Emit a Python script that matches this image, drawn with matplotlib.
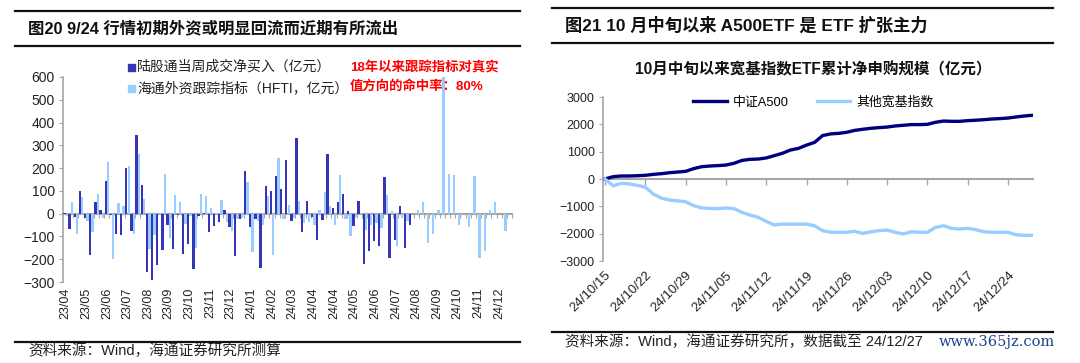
import numpy as np
import matplotlib
matplotlib.use('Agg')
import matplotlib.pyplot as plt
from matplotlib.patches import Rectangle
from matplotlib.lines import Line2D

plt.rcParams['font.family'] = ['Liberation Sans', 'Noto Sans CJK SC']

# ---- left chart data (weekly, 亿元) ----
week_labels = ['23/04', '23/05', '23/06', '23/07', '23/08', '23/09', '23/10', '23/11',
               '23/12', '24/01', '24/02', '24/03', '24/04', '24/04', '24/05', '24/06',
               '24/07', '24/08', '24/09', '24/10', '24/11', '24/12']

northbound = [5, -68, -15, 100, -20, -180, 50, 18, 145, -5,
              -88, -95, 200, -78, 347, 128, -258, -293, -225, -160,
              -50, -155, -5, -178, -135, -243, -10, 5, -82, -52,
              -35, 18, -60, -188, -25, 187, -60, -25, -237, 122,
              100, 164, 108, 237, -33, 332, -80, 54, -15, -117,
              -27, 260, 25, 50, 88, 10, -55, 54, -220, -163,
              -120, -140, 160, -195, -114, 32, -150, -50]

hfti = [-10, 52, -90, 72, -30, -80, 87, -20, 227, -200,
        48, 35, 210, -90, 260, 65, -155, -95, 5, 175,
        -105, 80, 52, -45, -10, -150, 87, 77, 25, 5,
        58, -35, -75, -25, -20, 140, -170, -30, -50, 78,
        -180, 245, -25, 37, -20, 57, -40, -37, -50, 15,
        95, 35, -50, 171, -22, -97, -15, 5, -70, -48,
        -40, -63, 80, 10, -143, -20, -33, 0, 18, 50,
        -128, -88, 15, 600, 174, 171, -48, 0, -60, 164,
        -195, -165, 18, 50, 0, -78, 0]

# ---- right chart data (daily, 亿元) ----
day_labels = ['24/10/15', '24/10/22', '24/10/29', '24/11/05', '24/11/12', '24/11/19',
              '24/11/26', '24/12/03', '24/12/10', '24/12/17', '24/12/24']

a500 = [0, 85, 110, 110, 120, 135, 170, 195, 230, 255,
        280, 380, 450, 475, 490, 510, 575, 680, 720, 730,
        770, 855, 940, 1060, 1120, 1240, 1340, 1590, 1650, 1670,
        1710, 1780, 1820, 1855, 1880, 1900, 1940, 1965, 1990, 1990,
        2000, 2075, 2120, 2110, 2110, 2135, 2150, 2170, 2195, 2210,
        2230, 2270, 2305, 2330]

others = [0, -250, -160, -180, -230, -300, -550, -700, -770, -800,
          -830, -975, -1060, -1075, -1085, -1060, -1085, -1220, -1320, -1400,
          -1550, -1680, -1650, -1650, -1650, -1650, -1710, -1890, -1950, -1950,
          -1950, -1915, -1990, -1930, -1890, -1870, -1950, -2010, -1930, -1950,
          -1950, -1770, -1710, -1805, -1830, -1805, -1855, -1930, -1950, -1950,
          -1950, -2040, -2060, -2060]

W, H = 1080, 363
def fx(p):
    return p / W
def fy(p):
    return 1 - p / H

dark_c = '#3535B5'
light_c = '#99CCFF'
navy = '#000080'
gray = '#A6A6A6'
txt = '#222222'

fig = plt.figure(figsize=(10.8, 3.63), dpi=100)

def hline(x0, x1, y, lw=1.6):
    fig.add_artist(Line2D([fx(x0), fx(x1)], [fy(y), fy(y)], transform=fig.transFigure,
                          color='#111111', lw=lw))

# ---- headers and footers ----
hline(15, 520, 11)
hline(15, 520, 46)
hline(15, 520, 342)
fig.text(fx(28), fy(28), '图20 9/24 行情初期外资或明显回流而近期有所流出', fontsize=11.8,
         fontweight='bold', va='center', ha='left', color='#111111')
fig.text(fx(28), fy(351), '资料来源：Wind，海通证券研究所测算', fontsize=10.5,
         va='center', ha='left', color=txt)

hline(552, 1053, 8)
hline(552, 1053, 43)
hline(552, 1053, 332)
fig.text(fx(565), fy(25), '图21 10 月中旬以来 A500ETF 是 ETF 扩张主力', fontsize=12.4,
         fontweight='bold', va='center', ha='left', color='#111111')
fig.text(fx(565), fy(342), '资料来源：Wind，海通证券研究所，数据截至 24/12/27', fontsize=10.5,
         va='center', ha='left', color=txt)
fig.text(fx(1055), fy(342), 'www.365jz.com', fontsize=10.5, family='DejaVu Serif',
         va='center', ha='right', color='#1F3F8F')

# ---- left chart ----
n = len(hfti)
x = np.arange(n)
north = np.array(northbound + [np.nan] * (n - len(northbound)), dtype=float)

ax1 = fig.add_axes([fx(63), fy(282), fx(512) - fx(63), fy(77) - fy(282)])
ax1.bar(x - 0.23, north, width=0.45, color=dark_c, zorder=3)
ax1.bar(x + 0.23, hfti, width=0.45, color=light_c, zorder=3)
ax1.set_xlim(-0.5, n - 0.5)
ax1.set_ylim(-300, 600)
ax1.set_yticks(np.arange(-300, 601, 100))
ax1.tick_params(axis='y', labelsize=10, colors=txt, length=3, color=gray, pad=3)
ax1.set_xticks(np.arange(0, n, 4)[:len(week_labels)])
ax1.set_xticklabels(week_labels, rotation=90, fontsize=9, color=txt)
ax1.tick_params(axis='x', length=0, pad=4)
for s in ['top', 'right', 'bottom']:
    ax1.spines[s].set_visible(False)
ax1.spines['left'].set_color(gray)
ax1.spines['left'].set_linewidth(1.2)

sec1 = ax1.secondary_xaxis(0, transform=ax1.transData)
sec1.set_xticks(np.arange(-0.5, n, 1))
sec1.tick_params(length=3, color=gray, labelbottom=False, width=0.8)
sec1.spines['bottom'].set_color(gray)
sec1.spines['bottom'].set_linewidth(1.5)

# legend of left chart
fig.add_artist(Rectangle((fx(128), fy(71)), fx(7), 7 / H, transform=fig.transFigure,
                         color=dark_c))
fig.add_artist(Rectangle((fx(128), fy(92)), fx(7), 7 / H, transform=fig.transFigure,
                         color=light_c))
fig.text(fx(137), fy(67), '陆股通当周成交净买入（亿元）', fontsize=10, va='center',
         ha='left', color=txt)
fig.text(fx(137), fy(88), '海通外资跟踪指标（HFTI，亿元）', fontsize=10, va='center',
         ha='left', color=txt)
fig.text(fx(350), fy(68), '18年以来跟踪指标对真实', fontsize=9.6, fontweight='bold',
         va='center', ha='left', color='#FF0000')
fig.text(fx(350), fy(86), '值方向的命中率：80%', fontsize=9.6, fontweight='bold',
         va='center', ha='left', color='#FF0000')

# ---- right chart ----
m = len(a500)
d = np.arange(m)
ax2 = fig.add_axes([fx(603), fy(261), fx(1033) - fx(603), fy(97) - fy(261)])
ax2.plot(d, a500, color=navy, lw=2.4, label='中证A500', zorder=3)
ax2.plot(d, others, color=light_c, lw=2.4, label='其他宽基指数', zorder=3)
ax2.set_xlim(-0.25, m - 0.9)
ax2.set_ylim(-3000, 3000)
ax2.set_yticks(np.arange(-3000, 3001, 1000))
ax2.tick_params(axis='y', labelsize=9, colors=txt, length=3, color=gray, pad=3)
ax2.set_xticks(np.arange(0, m, 5)[:len(day_labels)])
ax2.set_xticklabels(day_labels, rotation=45, ha='right', rotation_mode='anchor',
                    fontsize=9.5, color=txt)
ax2.tick_params(axis='x', length=0, pad=6)
for s in ['top', 'right', 'bottom']:
    ax2.spines[s].set_visible(False)
ax2.spines['left'].set_color(gray)
ax2.spines['left'].set_linewidth(1.2)

sec2 = ax2.secondary_xaxis(0, transform=ax2.transData)
sec2.set_xticks(np.arange(0, m, 5))
sec2.tick_params(length=4, color=gray, labelbottom=False, width=1)
sec2.spines['bottom'].set_color(gray)
sec2.spines['bottom'].set_linewidth(1.5)

ax2.legend(loc='upper left', bbox_to_anchor=(fx(693), fy(96)),
           bbox_transform=fig.transFigure, ncol=2, frameon=False, fontsize=9.3,
           handlelength=2.6, handletextpad=0.45, columnspacing=2.2, borderpad=0,
           borderaxespad=0)

fig.text(fx(813), fy(70), '10月中旬以来宽基指数ETF累计净申购规模（亿元）', fontsize=11.2,
         fontweight='bold', va='center', ha='center', color='#111111')

fig.savefig('out.png', dpi=100)
